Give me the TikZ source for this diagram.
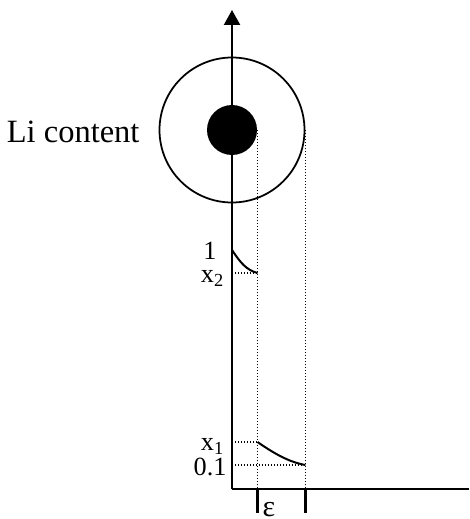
\documentclass[tikz,border=0pt]{standalone}
\usepackage{fontspec}
\setmainfont{Liberation Serif}
\usetikzlibrary{arrows.meta}
\begin{document}
\begin{tikzpicture}[x=0.4pt,y=-0.4pt,
  axis/.style={line width=0.9pt},
  guide/.style={line width=0.6pt,dash pattern=on 0.5pt off 0.7pt},
  lbl/.style={font=\fontsize{10.5}{12}\selectfont,inner sep=0pt,anchor=base east}]
\useasboundingbox (0,0) rectangle (469,519);
\coordinate (O) at (232,489);
\coordinate (top) at (232,10);
\coordinate (xend) at (469,489);
\node[circle,draw,line width=0.7pt,minimum size=58pt,inner sep=0pt] (shell) at (232,130) {};
\node[circle,fill,minimum size=20pt,inner sep=0pt] (core) at (232,130) {};
\draw[axis,-{Triangle[width=6.4pt,length=6pt]}] (O) -- (top);
\draw[axis] (O) -- (xend);
% dotted guides down from the two radii
\coordinate (r1) at (core.east |- O);
\coordinate (r2) at (shell.east |- O);
\draw[guide] (core.east) -- (r1);
\draw[guide] (shell.east) -- (r2);
\draw[axis] (r1) -- ++(0,24);
\draw[axis] (r2) -- ++(0,24);
% concentration profiles
\coordinate (a1) at (232,250);
\coordinate (a2) at (r1 |- 0,273);
\coordinate (b1) at (r1 |- 0,442);
\coordinate (b2) at (r2 |- 0,465);
\draw[line width=0.8pt] (a1) .. controls (240,262) and (246,270) .. (a2);
\draw[line width=0.8pt] (b1) .. controls (272,452) and (288,462) .. (b2);
\draw[guide] (O |- a2) -- (a2);
\draw[guide] (O |- b1) -- (b1);
\draw[guide] (O |- b2) -- (b2);
\node[lbl] (one) at (217,259) {1};
\node[lbl] (xtwo) at (225,282) {x\textsubscript{2}};
\node[lbl] (xone) at (225,450) {x\textsubscript{1}};
\node[lbl] (tenth) at (227,475) {0.1};
\node[lbl,font=\fontsize{13}{15}\selectfont] (li) at (140,143) {Li content};
\node[inner sep=0pt,anchor=base,font=\fontsize{12}{14}\selectfont] (eps) at (269,516) {ε};
\end{tikzpicture}
\end{document}
